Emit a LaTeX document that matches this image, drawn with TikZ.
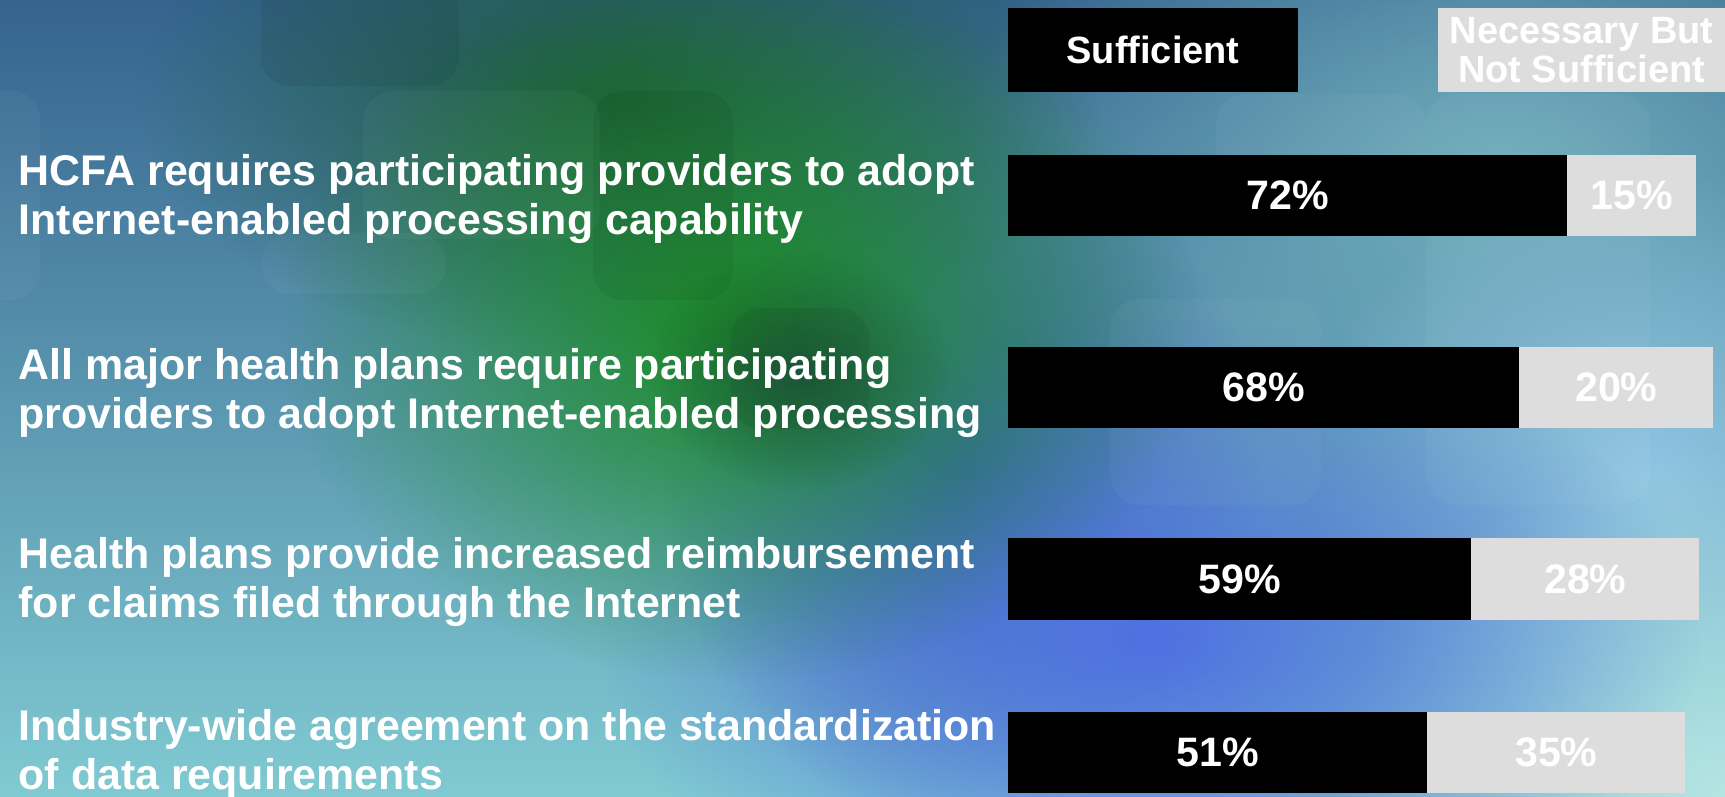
\documentclass[tikz,border=0pt]{standalone}
\usepackage{fontspec}
\setmainfont{Liberation Sans}
\usetikzlibrary{positioning, fadings}
\definecolor{bargray}{HTML}{DDDDDD}
\definecolor{bgdark}{HTML}{35638E}
\definecolor{bglight}{HTML}{80CAD2}
\definecolor{bggreen}{HTML}{1A8C22}
\definecolor{bgdeep}{HTML}{1D5A3A}
\definecolor{bgblue}{HTML}{4F70E2}
\definecolor{bgnavy}{HTML}{3A5FB0}
\definecolor{bgsky}{HTML}{8FC4E2}
\definecolor{bgcyan}{HTML}{B5E5E3}
\definecolor{bgteal}{HTML}{70AEBC}
\tikzfading[name=blob, inner color=transparent!0, outer color=transparent!100]
\tikzstyle{legend} = [rectangle, 
minimum height=0.84cm, 
inner sep=0pt, outer sep=0pt, 
text=white, align=center, 
font=\fontsize{10.8}{11.2}\selectfont\bfseries]
\tikzstyle{suff} = [rectangle, fill=black, 
minimum height=0.81cm, 
inner sep=0pt, outer sep=0pt, 
text=white, 
font=\fontsize{11.7}{12}\selectfont\bfseries]
\tikzstyle{nec} = [suff, fill=bargray]
\tikzstyle{factor} = [anchor=west, align=left, inner sep=0pt, 
text=white, 
font=\fontsize{12.2}{13.8}\selectfont\bfseries]
\tikzstyle{tile} = [rounded corners=0.3cm, fill=white, fill opacity=0.035]
\tikzstyle{shade} = [rounded corners=0.3cm, fill=black, fill opacity=0.06]

\begin{document}
\begin{tikzpicture}[x=0.01cm, y=-0.01cm]
        \useasboundingbox (0,0) rectangle (1725,796);
        % background
        \begin{scope}
        \clip (0,0) rectangle (1725,796);
        \fill[top color=bgdark, bottom color=bglight] (0,0) rectangle (1725,796);
        \fill[bgteal, path fading=blob] (1500,180) ellipse (5.5cm and 4cm);
        \fill[bgsky, path fading=blob] (1650,470) ellipse (3.5cm and 3cm);
        \fill[bgcyan, path fading=blob] (1725,796) ellipse (4cm and 3.5cm);
        \fill[bgnavy, path fading=blob] (960,470) ellipse (3cm and 3.5cm);
        \fill[bgblue, path fading=blob] (1150,640) ellipse (5.5cm and 3.2cm);
        \fill[bgdeep, path fading=blob] (620,100) ellipse (4.8cm and 2.6cm);
        \fill[bggreen, path fading=blob] (740,330) ellipse (4.6cm and 3.5cm);
        \fill[bgdeep, path fading=blob] (800,370) ellipse (1.5cm and 1.2cm);
        % faint tiles
        \fill[shade] (261,-20) rectangle (459,86);
        \fill[tile] (363,91) rectangle (600,239);
        \fill[shade] (593,91) rectangle (733,300);
        \fill[tile] (261,233) rectangle (446,294);
        \fill[shade] (731,308) rectangle (869,429);
        \fill[tile] (-20,90) rectangle (40,300);
        \fill[tile] (1216,94) rectangle (1426,231);
        \fill[tile] (1110,299) rectangle (1321,505);
        \fill[tile] (1426,94) rectangle (1650,505);
        \end{scope}
        % legend
        \node (suf) [legend, fill=black, minimum width=2.9cm] at (1153,50) {Sufficient};
        \node (nec) [legend, fill=bargray, minimum width=2.87cm, anchor=west] at (1438,50) {Necessary But\\Not Sufficient};
        % bars
        \node (b1) [suff, minimum width=5.59cm, anchor=west] at (1008,195.5) {72\%};
        \node (g1) [nec, minimum width=1.29cm, right=0pt of b1] {15\%};
        \node (b2) [suff, minimum width=5.11cm, anchor=west] at (1008,387.5) {68\%};
        \node (g2) [nec, minimum width=1.94cm, right=0pt of b2] {20\%};
        \node (b3) [suff, minimum width=4.63cm, anchor=west] at (1008,579) {59\%};
        \node (g3) [nec, minimum width=2.28cm, right=0pt of b3] {28\%};
        \node (b4) [suff, minimum width=4.19cm, anchor=west] at (1008,752) {51\%};
        \node (g4) [nec, minimum width=2.58cm, right=0pt of b4] {35\%};
        % factors
        \node (f1) [factor] at (18,199) {HCFA requires participating providers to adopt\\Internet-enabled processing capability};
        \node (f2) [factor] at (18,393) {All major health plans require participating\\providers to adopt Internet-enabled processing};
        \node (f3) [factor] at (18,582) {Health plans provide increased reimbursement\\for claims filed through the Internet};
        \node (f4) [factor] at (18,754) {Industry-wide agreement on the standardization\\of data requirements};
    \end{tikzpicture}
\end{document}
